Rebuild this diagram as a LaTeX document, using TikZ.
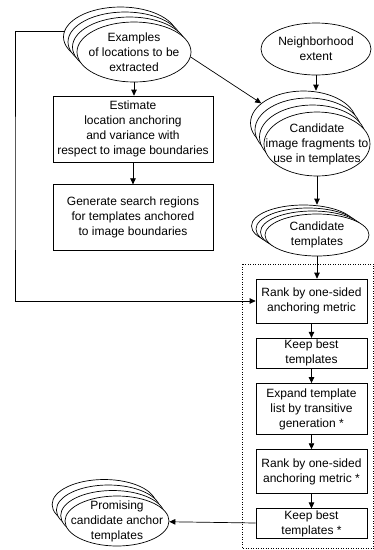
\documentclass[tikz,border=0pt]{standalone}
\usepackage{fontspec}
\setmainfont{Liberation Sans}
\usetikzlibrary{positioning,arrows.meta,shapes.geometric}

\begin{document}
\begin{tikzpicture}[
    x=1pt, y=-1pt,
    font=\fontsize{12}{15}\selectfont,
    line width=0.7pt,
    node distance=14.5pt,
    stack/.style={ellipse, draw, fill=white, inner sep=0pt},
    txt/.style={align=center, inner sep=0pt},
    process/.style={rectangle, draw, align=center, inner xsep=2pt, inner ysep=1pt},
    arrow/.style={-{Triangle[length=6pt,width=5.5pt]}}
]
\useasboundingbox (0,0) rectangle (374,550);

% Examples (stack)
\foreach \k in {3,2,1}
  \node[stack, minimum width=114, minimum height=60, xshift=-4.5*\k pt, yshift=5*\k pt] (ex\k) at (134,52) {};
\node[stack, minimum width=114, minimum height=60,
      label={[txt, name=extxt]center:Examples\\of locations to be\\extracted}] (ex) at (134,52) {};

% Left column
\node[process, minimum width=160, minimum height=66] (est) at (133,129)
  {Estimate\\location anchoring\\and variance with\\respect to image boundaries};
\node[process, minimum width=160, minimum height=66, below=22pt of est] (gen)
  {Generate search regions\\for templates anchored\\to image boundaries};

% Neighborhood
\node[stack, minimum width=110, minimum height=52,
      label={[txt, name=nbhtxt]center:Neighborhood\\extent}] (nbh) at (316,49) {};

% Candidate fragments (stack)
\foreach \k in {3,2,1}
  \node[stack, minimum width=106, minimum height=64, xshift=-4.5*\k pt, yshift=7*\k pt] (frag\k) at (317,144) {};
\node[stack, minimum width=106, minimum height=64,
      label={[txt, name=fragtxt]center:Candidate\\image fragments to\\use in templates}] (frag) at (317,144) {};

% Candidate templates (stack)
\foreach \k in {3,2,1}
  \node[stack, minimum width=104, minimum height=42, xshift=-4.5*\k pt, yshift=3*\k pt] (tmp\k) at (317,235) {};
\node[stack, minimum width=104, minimum height=42,
      label={[txt, name=tmptxt]center:Candidate\\templates}] (tmp) at (317,235) {};

% Dotted group
\draw[dotted, line width=0.5pt] (242,264) rectangle (373.5,548);

% Right column
\node[process, minimum width=111, minimum height=44] (rank1) at (311.5,301)
  {Rank by one-sided\\anchoring metric};
\node[process, minimum width=111, minimum height=30, below=of rank1] (keep1)
  {Keep best\\templates};
\node[process, minimum width=111, minimum height=51, below=of keep1] (expand)
  {Expand template\\list by transitive\\generation *};
\node[process, minimum width=111, minimum height=44, below=of expand] (rank2)
  {Rank by one-sided\\anchoring metric *};
\node[process, minimum width=111, minimum height=30, below=of rank2] (keep2)
  {Keep best\\templates *};

% Promising (stack)
\foreach \k in {3,2,1}
  \node[stack, minimum width=104, minimum height=50, xshift=-4.3*\k pt, yshift=5.5*\k pt] (prom\k) at (117,521) {};
\node[stack, minimum width=104, minimum height=50,
      label={[txt, name=promtxt]center:Promising\\candidate anchor\\templates}] (prom) at (117,521) {};

% Arrows
\coordinate (loop) at (15,200);
\draw[arrow] (ex3.174) -| (loop) |- (rank1.west);
\draw[arrow] (ex.south) -- (ex.south |- est.north);
\draw[arrow] (est) -- (gen);
\draw[arrow] (ex.-5) -- (frag3.155);
\draw[arrow] (nbh.south) -- (nbh.south |- frag3.north);
\draw[arrow] (frag.south) -- (frag.south |- tmp3.north);
\draw[arrow] (tmp.south) -- (tmp.south |- rank1.north);
\draw[arrow] (rank1) -- (keep1);
\draw[arrow] (keep1) -- (expand);
\draw[arrow] (expand) -- (rank2);
\draw[arrow] (rank2) -- (keep2);
\draw[arrow] (keep2) -- (prom);

\end{tikzpicture}
\end{document}
